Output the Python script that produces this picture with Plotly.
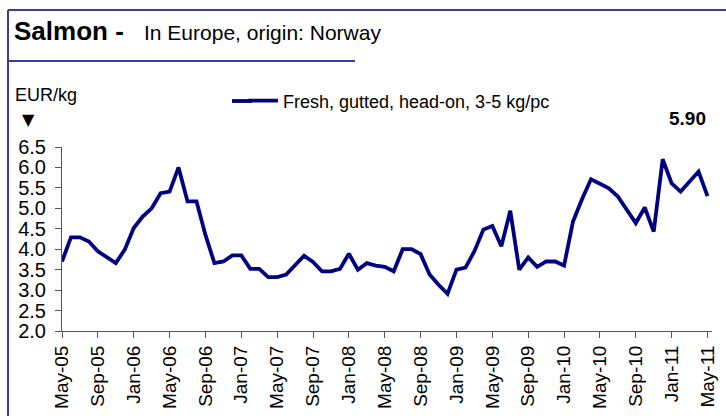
import pandas as pd
import plotly.graph_objects as go

# Monthly price, EUR/kg, May-05 .. May-11
months = list(pd.date_range("2005-05-01", periods=73, freq="MS").strftime("%b-%y"))
price = [
    3.70, 4.29, 4.29, 4.19, 3.95, 3.80, 3.66, 3.99, 4.52, 4.80, 5.00, 5.37, 5.41,
    6.00, 5.17, 5.17, 4.35, 3.66, 3.70, 3.85, 3.85, 3.52, 3.52, 3.32, 3.32,
    3.38, 3.62, 3.84, 3.69, 3.46, 3.46, 3.52, 3.89, 3.50, 3.66, 3.60, 3.57,
    3.46, 4.00, 4.00, 3.88, 3.38, 3.13, 2.91, 3.50, 3.55, 3.95, 4.48, 4.57,
    4.07, 4.94, 3.50, 3.80, 3.57, 3.70, 3.70, 3.60, 4.68, 5.22, 5.71, 5.60,
    5.49, 5.29, 4.96, 4.64, 5.02, 4.43, 6.20, 5.61, 5.41, 5.65, 5.90, 5.30,
]
tick_labels = ["May-05", "Sep-05", "Jan-06", "May-06", "Sep-06", "Jan-07", "May-07",
               "Sep-07", "Jan-08", "May-08", "Sep-08", "Jan-09", "May-09", "Sep-09",
               "Jan-10", "May-10", "Sep-10", "Jan-11", "May-11"]
y_ticks = [2.0, 2.5, 3.0, 3.5, 4.0, 4.5, 5.0, 5.5, 6.0, 6.5]
series_name = "Fresh, gutted, head-on, 3-5 kg/pc"
latest_label = "5.90"

W, H = 726, 416
L, R, T, B = 62, 14, 147, 85
PW, PH = W - L - R, H - T - B

def px(x):
    return (x - L) / PW

def py(y):
    return (H - B - y) / PH

FONT = "Liberation Sans, Arial, sans-serif"
BORDER = "#3C3CA0"
AX = "#555555"
NAVY = "#000080"

fig = go.Figure()
fig.add_trace(go.Scatter(
    x=list(range(len(months))), y=price, mode="lines", name=series_name,
    line=dict(color=NAVY, width=3.8), customdata=months,
))

fig.update_layout(
    width=W, height=H,
    margin=dict(l=L, r=R, t=T, b=B, autoexpand=False),
    paper_bgcolor="white", plot_bgcolor="white",
    font=dict(family=FONT, color="black"),
    showlegend=True,
    legend=dict(orientation="h", xref="container", yref="container",
                x=243 / W, y=1 - 101 / H, xanchor="left", yanchor="middle",
                font=dict(size=18, family=FONT), bgcolor="rgba(0,0,0,0)",
                itemwidth=30),
    xaxis=dict(
        range=[0, 72.5], tickmode="array", automargin=False,
        tickvals=[i * 4 for i in range(len(tick_labels))], ticktext=tick_labels,
        tickangle=-90, tickfont=dict(size=19, family=FONT),
        showgrid=False, zeroline=False, showline=True, linecolor=AX, linewidth=1,
        ticks="outside", ticklen=6, tickcolor=AX,
    ),
    yaxis=dict(
        range=[2.0, 6.5], tickmode="array", tickvals=y_ticks, automargin=False,
        ticktext=[f"{v:.1f}" for v in y_ticks], tickfont=dict(size=20, family=FONT),
        showgrid=False, zeroline=False, showline=True, linecolor=AX, linewidth=1,
        ticks="outside", ticklen=6, tickcolor=AX, ticklabelstandoff=5,
    ),
)

shapes = [
    dict(type="line", xref="paper", yref="paper", x0=px(8), x1=px(726), y0=py(10), y1=py(10),
         line=dict(color=BORDER, width=2)),
    dict(type="line", xref="paper", yref="paper", x0=px(8), x1=px(8), y0=py(10), y1=py(416),
         line=dict(color=BORDER, width=2)),
    dict(type="line", xref="paper", yref="paper", x0=px(8), x1=px(355), y0=py(61), y1=py(61),
         line=dict(color=BORDER, width=2)),
    # extends the legend key line to the reference length
    dict(type="line", xref="paper", yref="paper", x0=px(232), x1=px(252), y0=py(101), y1=py(101),
         line=dict(color=NAVY, width=3.8)),
]
fig.update_layout(shapes=shapes)

ann = [
    dict(text="<b>Salmon -</b>", x=px(12), y=py(31), xanchor="left", yanchor="middle",
         font=dict(size=26, family=FONT)),
    dict(text="In Europe, origin: Norway", x=px(142), y=py(32), xanchor="left", yanchor="middle",
         font=dict(size=21, family=FONT)),
    dict(text="EUR/kg", x=px(13), y=py(95), xanchor="left", yanchor="middle",
         font=dict(size=18, family=FONT)),
    dict(text="▼", x=px(28), y=py(120), xanchor="center", yanchor="middle",
         font=dict(size=16, family="DejaVu Sans")),
    dict(text=f"<b>{latest_label}</b>", x=px(687), y=py(118), xanchor="center", yanchor="middle",
         font=dict(size=19, family=FONT)),
]
for a in ann:
    a.update(xref="paper", yref="paper", showarrow=False)
fig.update_layout(annotations=ann)

fig.write_html("out.html", config={"displayModeBar": False},
               post_script="document.body.style.margin='0';")
